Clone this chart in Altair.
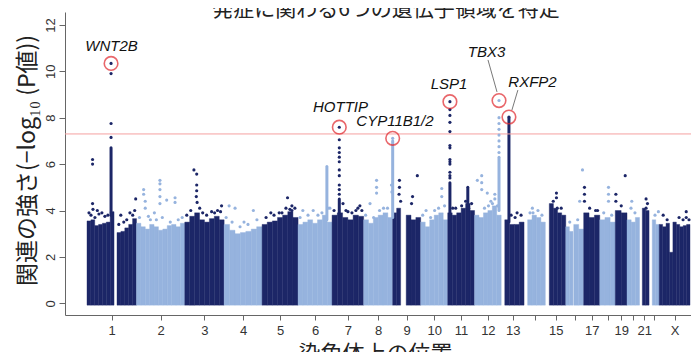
import altair as alt
import pandas as pd

# ---------------- data ----------------
chrom_names = ["1", "2", "3", "4", "5", "6", "7", "8", "9", "10", "11", "12",
               "13", "14", "15", "16", "17", "18", "19", "20", "21", "22", "X"]
chrom_len = [249, 243, 198, 191, 181, 171, 159, 146, 141, 136, 135, 134,
             115, 107, 103, 90, 81, 78, 59, 63, 48, 51, 155]
tick_labels = ["1", "2", "3", "4", "5", "6", "7", "8", "9", "10", "11", "12",
               "13", "", "15", "", "17", "", "19", "", "21", "", "X"]

# dense body of SNPs: (chromosome, start Mb, end Mb, top of the dense band per bin)
bulk_segments = [
    ("1", 0, 136, [3.55, 3.6, 3.35, 3.4, 3.45, 3.5, 3.95]),
    ("1", 151, 249, [3.05, 3.1, 3.25, 3.4, 3.65]),
    ("2", 0, 243, [3.45, 3.3, 3.2, 3.4, 3.3, 3.15, 3.2, 3.35, 3.4, 3.3, 3.45]),
    ("3", 0, 198, [3.5, 3.75, 3.9, 3.6, 3.5, 3.65, 3.75, 3.6]),
    ("4", 0, 191, [3.4, 3.15, 3.0, 3.05, 3.1, 3.2, 3.3]),
    ("5", 0, 181, [3.4, 3.5, 3.55, 3.7, 3.8, 3.95, 3.7]),
    ("6", 0, 171, [3.4, 3.5, 3.6, 3.45, 3.6, 3.8, 3.5]),
    ("7", 0, 159, [3.8, 3.9, 3.7, 3.6, 3.8, 3.75]),
    ("8", 0, 146, [3.6, 3.45, 3.7, 3.8, 3.9, 3.7]),
    ("9", 0, 40, [3.9, 4.1]),
    ("9", 68, 141, [3.8, 3.6, 3.7]),
    ("10", 0, 136, [3.5, 3.3, 3.6, 3.8, 3.9, 3.6]),
    ("11", 0, 135, [3.9, 3.8, 3.9, 4.1, 4.3, 4.0]),
    ("12", 0, 134, [3.8, 3.7, 3.9, 4.0, 4.2, 3.8]),
    ("13", 18, 115, [3.6, 3.4, 3.4, 3.5]),
    ("14", 18, 107, [3.6, 3.8, 3.7, 3.5]),
    ("15", 20, 103, [4.3, 4.1, 3.9, 3.8]),
    ("16", 0, 36, [3.3, 3.1]),
    ("16", 40, 90, [3.4, 3.2]),
    ("17", 0, 81, [3.9, 3.7, 3.8]),
    ("18", 0, 78, [3.6, 3.7, 3.5]),
    ("19", 0, 59, [4.0, 3.9]),
    ("20", 0, 63, [3.6, 3.5, 3.7]),
    ("21", 14, 48, [4.1, 4.0]),
    ("22", 16, 51, [3.6, 3.4]),
    ("X", 0, 155, [3.4, 3.3, 3.45, 2.2, 3.5, 3.4, 3.3, 3.35, 3.4]),
]

# continuous columns of SNPs: (chromosome, Mb, low, high)
dense_columns = [
    ("1", 121, 3.8, 6.7),
    ("7", 36.4, 3.8, 4.5),
    ("8", 146, 3.7, 7.0),
    ("11", 11, 3.9, 5.2),
    ("11", 101, 4.0, 5.0),
    ("12", 123, 4.0, 6.3),
    ("13", 39, 3.5, 8.0),
    ("6", 145, 3.6, 5.9),
]

# individual SNPs above the dense band: (chromosome, Mb, -log10 P)
scatter_points = [
    ("1", 121, 9.9), ("1", 121, 7.75), ("1", 121, 7.15),
    ("1", 28, 6.2), ("1", 28, 6.0), ("1", 28, 4.3), ("1", 30, 4.05), ("1", 52, 4.0),
    ("1", 60, 3.85), ("1", 75, 3.9), ("1", 170, 3.8), ("1", 216, 3.9), ("1", 245, 4.5),
    ("1", 240, 4.0),
    ("2", 36, 4.9), ("2", 36, 4.7), ("2", 44, 4.4), ("2", 44, 4.1), ("2", 118, 5.3),
    ("2", 118, 5.15), ("2", 118, 4.9), ("2", 118, 4.6), ("2", 118, 4.3), ("2", 152, 4.45),
    ("2", 194, 4.55), ("2", 194, 4.35), ("2", 90, 3.9), ("2", 60, 3.75),
    ("3", 46, 5.75), ("3", 60, 5.57), ("3", 60, 5.1), ("3", 60, 4.85), ("3", 58, 4.6),
    ("3", 62, 4.35), ("3", 75, 4.1), ("3", 135, 3.95), ("3", 185, 4.2), ("3", 180, 3.95),
    ("4", 25, 4.2), ("4", 55, 4.1), ("4", 147, 4.0), ("4", 100, 3.5),
    ("5", 44, 3.9), ("5", 86, 3.9), ("5", 128, 4.55), ("5", 150, 4.2), ("5", 150, 4.0),
    ("5", 140, 4.05),
    ("6", 24, 4.0), ("6", 76, 4.0), ("6", 160, 4.1),
    ("7", 36.4, 7.05), ("7", 36.4, 6.7), ("7", 36.4, 6.5), ("7", 36.4, 6.3), ("7", 36.4, 6.1),
    ("7", 36.4, 5.75), ("7", 36.4, 5.5), ("7", 36.4, 5.1), ("7", 36.4, 4.9), ("7", 36.4, 4.7),
    ("7", 55, 4.3), ("7", 70, 4.0), ("7", 130, 4.1), ("7", 140, 4.2),
    ("8", 65, 5.3), ("8", 65, 5.0), ("8", 65, 4.75), ("8", 32, 4.3), ("8", 142, 4.8),
    ("8", 100, 4.1), ("8", 140, 5.1),
    ("9", 34, 5.3), ("9", 34, 5.0), ("9", 32, 4.7), ("9", 40, 4.4), ("9", 124, 5.5),
    ("9", 95, 4.3), ("9", 100, 4.6),
    ("10", 27, 4.0), ("10", 106, 4.95), ("10", 106, 4.6), ("10", 70, 4.0),
    ("11", 11, 8.35), ("11", 11, 8.1), ("11", 11, 7.8), ("11", 11, 7.4), ("11", 11, 6.8),
    ("11", 11, 6.7), ("11", 11, 6.2), ("11", 11, 6.1), ("11", 11, 6.0), ("11", 11, 5.65),
    ("11", 11, 5.5), ("11", 11, 5.4), ("11", 25, 4.1), ("11", 105, 4.1),
    ("12", 14, 5.3), ("12", 36, 5.5), ("12", 36, 5.2), ("12", 36, 4.9), ("12", 64, 4.75),
    ("12", 82, 4.4), ("12", 102, 4.7), ("12", 102, 4.5),
    ("12", 123, 8.0), ("12", 123, 7.75), ("12", 123, 7.5), ("12", 123, 7.25),
    ("12", 123, 7.0), ("12", 123, 6.75), ("12", 123, 6.5),
    ("13", 80, 3.9),
    ("14", 42, 4.1), ("14", 45, 3.9),
    ("15", 56, 4.75), ("15", 56, 4.55), ("15", 60, 4.1),
    ("16", 84, 5.75), ("16", 70, 4.4),
    ("17", 4, 5.0), ("17", 4, 4.7), ("17", 4, 4.4), ("17", 60, 4.0),
    ("18", 44, 5.0), ("18", 44, 4.7), ("18", 44, 4.4),
    ("19", 3, 4.7), ("19", 3, 4.4), ("19", 50, 5.5),
    ("20", 24, 4.4), ("20", 20, 4.1),
    ("21", 33, 4.5), ("21", 33, 4.1),
    ("22", 47, 3.95),
    ("X", 20, 3.8), ("X", 136, 3.95), ("X", 136, 3.7),
]

# loose SNPs just above the dense band (ragged edge)
fringe_points = [
    ("1", 10, 3.9), ("1", 20, 3.8), ("1", 40, 3.7), ("1", 90, 3.75), ("1", 105, 3.8),
    ("1", 160, 3.4), ("1", 185, 3.5), ("1", 200, 3.6), ("1", 230, 3.8),
    ("2", 15, 3.7), ("2", 70, 3.6), ("2", 100, 3.6), ("2", 130, 3.7), ("2", 170, 3.5),
    ("2", 210, 3.6), ("2", 230, 3.7),
    ("3", 10, 3.8), ("3", 30, 4.0), ("3", 90, 3.9), ("3", 110, 3.8), ("3", 150, 3.9),
    ("3", 165, 4.0),
    ("4", 10, 3.7), ("4", 40, 3.5), ("4", 80, 3.3), ("4", 120, 3.4), ("4", 165, 3.6),
    ("5", 20, 3.7), ("5", 60, 3.8), ("5", 100, 3.9), ("5", 120, 4.1), ("5", 165, 4.1),
    ("6", 10, 3.7), ("6", 50, 3.8), ("6", 100, 3.8), ("6", 120, 3.9), ("6", 150, 4.1),
    ("7", 10, 4.0), ("7", 80, 3.95), ("7", 100, 3.9), ("7", 120, 4.0), ("7", 150, 4.0),
    ("8", 10, 3.8), ("8", 50, 3.7), ("8", 80, 4.0), ("8", 120, 4.1),
    ("10", 10, 3.8), ("10", 50, 3.7), ("10", 90, 4.1), ("10", 120, 4.2),
    ("11", 40, 4.1), ("11", 70, 4.2), ("11", 90, 4.4), ("11", 120, 4.3),
    ("12", 50, 4.1), ("12", 70, 4.2), ("12", 90, 4.3), ("12", 115, 4.2),
    ("13", 50, 3.8), ("13", 70, 3.7), ("13", 100, 3.8),
    ("14", 30, 3.9), ("14", 70, 4.0), ("14", 90, 3.8),
    ("15", 40, 4.4), ("15", 80, 4.1),
    ("16", 20, 3.5), ("16", 60, 3.6),
    ("17", 30, 4.1), ("17", 70, 4.0),
    ("18", 20, 3.9), ("18", 60, 3.8),
    ("19", 30, 4.2), ("20", 40, 3.9), ("21", 40, 4.3), ("22", 30, 3.8),
    ("X", 40, 3.6), ("X", 100, 3.7), ("X", 120, 3.6), ("X", 150, 3.6),
]

# circled lead SNPs and their gene labels
peak_genes = ["WNT2B", "HOTTIP", "CYP11B1/2", "LSP1", "TBX3", "RXFP2"]
peak_chrom = ["1", "7", "8", "11", "12", "13"]
peak_pos = [121, 36.4, 146, 11, 123, 39]
peak_value = [10.34, 7.59, 7.11, 8.69, 8.74, 8.03]
label_pos = [123.3, 1275.5, 1549.7, 1821.4, 2010.0, 2241.5]      # cumulative Mb
label_value = [11.09, 8.46, 7.85, 9.47, 10.83, 9.52]
# leader lines (TBX3, RXFP2): cumulative Mb / -log10 P
leader_x1 = [2017.6, 2168.0]
leader_y1 = [10.49, 9.19]
leader_x2 = [2062.9, 2138.0]
leader_y2 = [9.11, 8.33]

threshold = 7.3
title_text = "発症に関わる6つの遺伝子領域を特定"

# ---------------- tables ----------------
starts = []
acc = 0
for L in chrom_len:
    starts.append(acc)
    acc += L
offset = dict(zip(chrom_names, starts))
shade = {c: ("dark" if i % 2 == 0 else "light") for i, c in enumerate(chrom_names)}
centers = [round(s + L / 2) for s, L in zip(starts, chrom_len)]

bulk_rows = []
for c, s, e, hs in bulk_segments:
    w = (e - s) / len(hs)
    for k, h in enumerate(hs):
        bulk_rows.append({"x0": offset[c] + s + k * w, "x1": offset[c] + s + (k + 1) * w,
                          "base": -0.08, "top": h, "shade": shade[c]})
bulk_df = pd.DataFrame(bulk_rows)

col_df = pd.DataFrame([{"pos": offset[c] + p, "lo": lo, "hi": hi, "shade": shade[c]}
                       for c, p, lo, hi in dense_columns])
pts = [{"pos": offset[c] + p, "val": v, "shade": shade[c]} for c, p, v in scatter_points + fringe_points]
pts += [{"pos": offset[c] + p, "val": v, "shade": shade[c]}
        for c, p, v in zip(peak_chrom, peak_pos, peak_value)]
pts_df = pd.DataFrame(pts)
peak_df = pd.DataFrame({"pos": [offset[c] + p for c, p in zip(peak_chrom, peak_pos)],
                        "val": peak_value})
lab_df = pd.DataFrame({"pos": label_pos, "val": label_value, "gene": peak_genes})
lead_df = pd.DataFrame({"pos": leader_x1, "val": leader_y1, "pos2": leader_x2, "val2": leader_y2})
thr_df = pd.DataFrame({"val": [threshold]})
title_df = pd.DataFrame({"t": [title_text]})

# ---------------- styling ----------------
DARK = "#1c2667"
LIGHT = "#96b3de"
FONT = "Liberation Sans"
JFONT = "Noto Sans CJK JP"

label_expr = ("[" + ",".join(f"'{t}'" for t in tick_labels) + "][indexof(["
              + ",".join(str(c) for c in centers) + "], datum.value)]")

xs = alt.Scale(domain=[-110.7, 3039], nice=False, zero=False)
ys = alt.Scale(domain=[-0.504, 12.556], nice=False, zero=False)
xax = alt.Axis(values=centers, labelExpr=label_expr, grid=False, tickSize=5,
               labelPadding=4, labelFont=FONT, labelFontSize=13, labelColor="#333333",
               domainColor="#666666", tickColor="#666666", labelFlush=False, labelOverlap=False,
               title="染色体上の位置", titleFont=JFONT, titleFontSize=22, titleFontWeight="normal",
               titleColor="#222222", titleX=310, titleY=28, titleBaseline="top", titleAlign="center")
yax = alt.Axis(values=[0, 2, 4, 6, 8, 10, 12], grid=False, tickSize=6, labelAngle=270,
               labelAlign="center", labelBaseline="bottom", labelPadding=2,
               labelFont=FONT, labelFontSize=13, labelColor="#333333",
               domainColor="#666666", tickColor="#666666",
               title="関連の強さ(−log₁₀ (P値))", titleFont=JFONT, titleFontSize=23,
               titleFontWeight="normal", titleColor="#222222", titleAngle=270,
               titleX=-38, titleY=148, titleAlign="center", titleBaseline="middle")
col = alt.Color("shade:N", scale=alt.Scale(domain=["dark", "light"], range=[DARK, LIGHT]), legend=None)

X = lambda f: alt.X(f, type="quantitative", scale=xs, axis=xax)
Y = lambda f: alt.Y(f, type="quantitative", scale=ys, axis=yax)

bulk = alt.Chart(bulk_df).mark_bar(strokeWidth=0.4).encode(
    x=X("x0"), x2="x1", y=Y("base"), y2="top", color=col, stroke=col)
cols = alt.Chart(col_df).mark_rule(strokeWidth=3, strokeCap="round").encode(
    x=X("pos"), y=Y("lo"), y2="hi", color=col)
dots = alt.Chart(pts_df).mark_circle(size=10, opacity=1).encode(
    x=X("pos"), y=Y("val"), color=col)
thr = alt.Chart(thr_df).mark_rule(color="#f5a0a0", strokeWidth=1).encode(y=Y("val"))
rings = alt.Chart(peak_df).mark_point(shape="circle", filled=False, size=185,
                                      color="#e0262c", strokeWidth=1.6).encode(x=X("pos"), y=Y("val"))
leads = alt.Chart(lead_df).mark_rule(color="#555555", strokeWidth=0.8).encode(
    x=X("pos"), y=Y("val"), x2="pos2", y2="val2")
labels = alt.Chart(lab_df).mark_text(font=FONT, fontStyle="italic", fontSize=15,
                                     color="#111111", baseline="middle", align="center").encode(
    x=X("pos"), y=Y("val"), text="gene:N")
title = alt.Chart(title_df).mark_text(font=JFONT, fontSize=21, color="#222222",
                                      align="center", baseline="alphabetic").encode(
    x=alt.value(321), y=alt.value(4), text="t:N")

chart = alt.layer(bulk, cols, thr, dots, rings, leads, labels, title).properties(
    width=626, height=303,
    autosize=alt.AutoSizeParams(type="none"),
    padding={"left": 57, "top": 4, "right": 0, "bottom": 37},
).configure_view(stroke=None)

chart.save("out.html", embed_options={"renderer": "svg", "actions": False})
